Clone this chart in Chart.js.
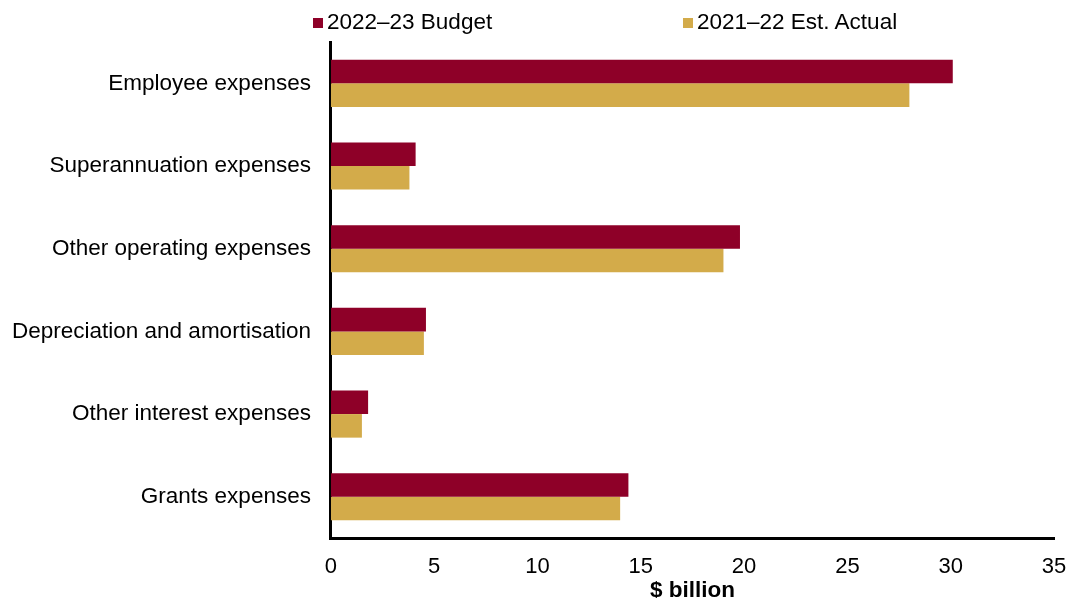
<!DOCTYPE html>
<html>
<head>
<meta charset="utf-8">
<script src="https://cdn.jsdelivr.net/npm/chart.js@4/dist/chart.umd.min.js"></script>
<style>
  html, body { margin: 0; padding: 0; background: #fff; }
  #wrap { position: relative; width: 1069px; height: 598px; }
  #legend { position: absolute; top: 8px; left: 0; width: 1069px; height: 30px;
            font-family: "Liberation Sans", Arial, sans-serif; font-size: 22.5px; color: #000; }
  .lg-item { position: absolute; top: 0; white-space: nowrap; line-height: 28px; }
  .lg-box { display: inline-block; width: 10px; height: 10px; margin-right: 4px; vertical-align: 1px; }
</style>
</head>
<body>
<div id="wrap">
  <canvas id="chart" width="1069" height="598"></canvas>
  <div id="legend"></div>
</div>
<script>
// ─── Data ($ billion) ───────────────────────────────────────
const categories = [
  "Employee expenses",
  "Superannuation expenses",
  "Other operating expenses",
  "Depreciation and amortisation",
  "Other interest expenses",
  "Grants expenses"
];
const budget2223    = [30.1, 4.1, 19.8, 4.6, 1.8, 14.4];
const estActual2122 = [28.0, 3.8, 19.0, 4.5, 1.5, 14.0];
const xTicks = [0, 5, 10, 15, 20, 25, 30, 35];

const FONT = "'Liberation Sans', Arial, sans-serif";
const RED  = "#8e0028";
const GOLD = "#d3ab4a";

const datasets = [
  { label: "2022–23 Budget",      data: budget2223,    backgroundColor: RED },
  { label: "2021–22 Est. Actual", data: estActual2122, backgroundColor: GOLD }
];

// legend sits above the plot, items spread apart
const legendX = [313, 683];
const legendEl = document.getElementById("legend");
legendEl.innerHTML = datasets.map((d, i) =>
  `<span class="lg-item" style="left:${legendX[i]}px"><span class="lg-box" style="background:${d.backgroundColor}"></span>${d.label}</span>`
).join("");

new Chart(document.getElementById("chart").getContext("2d"), {
  type: "bar",
  data: {
    labels: categories,
    datasets: datasets.map(d => ({ ...d, barPercentage: 1, categoryPercentage: 0.57 }))
  },
  options: {
    indexAxis: "y",
    responsive: false,
    animation: false,
    layout: { padding: { top: 42, right: 15, left: -8, bottom: 0 } },
    plugins: { legend: { display: false }, tooltip: { enabled: false } },
    scales: {
      x: {
        min: 0, max: 35,
        afterBuildTicks: axis => { axis.ticks = xTicks.map(v => ({ value: v })); },
        // let the "35" label hang past the plot edge instead of shrinking the plot
        afterFit: axis => { axis.paddingLeft = 0; axis.paddingRight = 0; },
        grid: { display: false, drawTicks: false },
        border: { display: true, color: "#000", width: 3 },
        ticks: { color: "#000", font: { family: FONT, size: 22 }, padding: 16, maxRotation: 0 },
        title: { display: true, text: "$ billion", color: "#000",
                 font: { family: FONT, size: 22.5, weight: "bold", lineHeight: 1 },
                 padding: { top: -17, bottom: -4 } }
      },
      y: {
        grid: { display: false, drawTicks: false },
        border: { display: true, color: "#000", width: 3 },
        ticks: { color: "#000", font: { family: FONT, size: 22.5 }, padding: 20 }
      }
    }
  }
});
</script>
</body>
</html>
